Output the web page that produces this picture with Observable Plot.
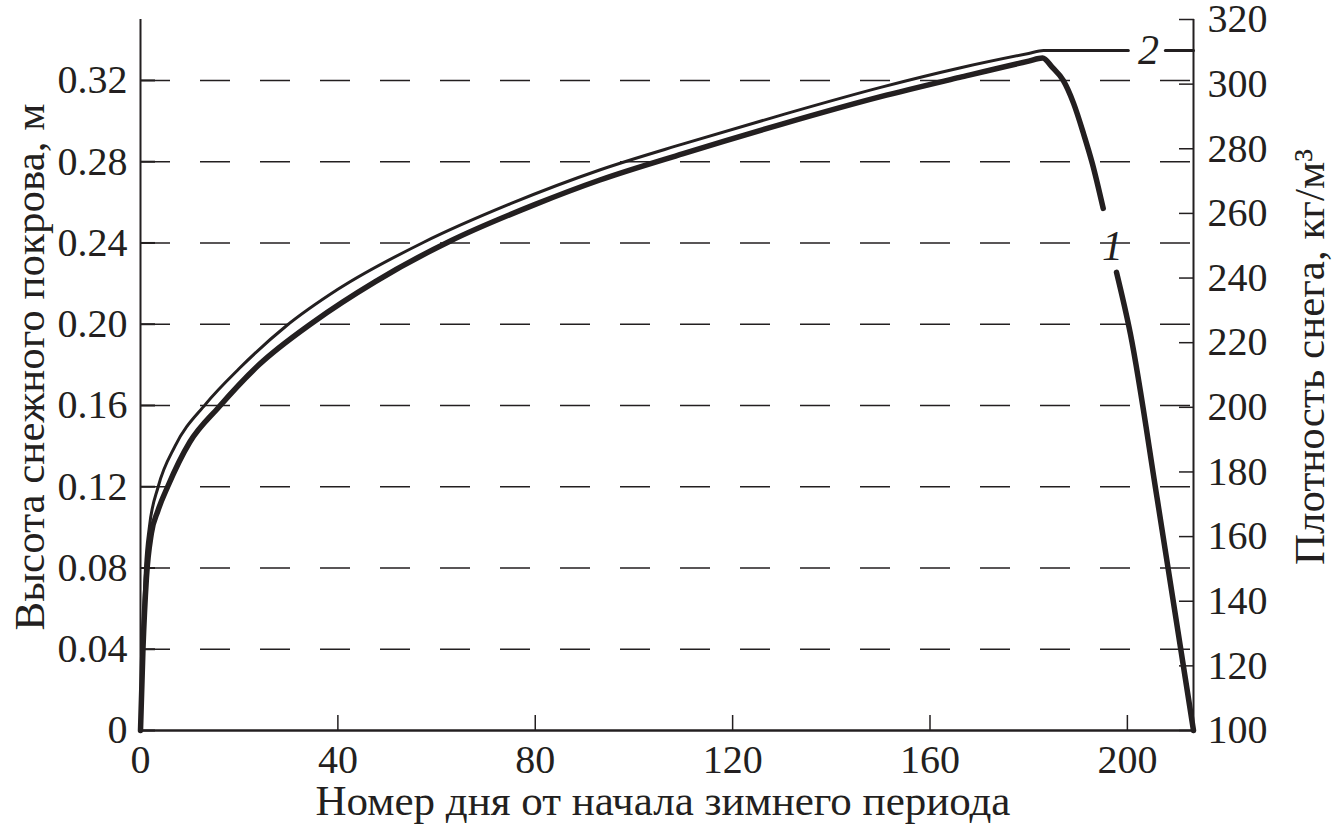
<!DOCTYPE html>
<html><head><meta charset="utf-8">
<script src="https://cdn.jsdelivr.net/npm/d3@7"></script>
<script src="https://cdn.jsdelivr.net/npm/@observablehq/plot@0.6"></script>
<style>body{margin:0;background:#fff}</style>
</head><body><div id="chart"></div>
<script>
const ink = "#231f20";
const xMax = 213.4;
const hMax = 0.35;
const dMin = 100, dMax = 320;

// Curve 1: snow depth (m), left axis
const heightDays    = [0, 0.5, 1.2, 2.2, 3.5, 5.5, 10, 15.8, 24, 35, 47.6, 62.8, 80, 93.1, 110, 130, 150, 166, 180, 182.8, 184.8, 187.0, 189.1, 191.1, 192.9, 195.1, 197.8, 200.6, 206.1, 213.4];
const heightValues  = [0, 0.04, 0.075, 0.097, 0.108, 0.12, 0.142, 0.159, 0.18, 0.201, 0.221, 0.241, 0.259, 0.271, 0.284, 0.2985, 0.312, 0.3215, 0.3295, 0.331, 0.3264, 0.320, 0.3087, 0.2939, 0.2791, 0.257, 0.2255, 0.1954, 0.1132, 0];
const heightSegment = [1,1,1,1,1,1,1,1,1,1,1,1,1,1,1,1,1,1,1,1,1,1,1,1,1,1,2,2,2,2];

// Curve 2: snow density (kg/m3), right axis
const densityDays    = [0, 0.4, 1.0, 1.8, 3.6, 7, 13.2, 20, 29.4, 40, 57.3, 75, 93.2, 110, 130, 150, 166, 180, 183, 200.2, 207.7, 213.4];
const densityValues  = [100, 125, 150, 163, 175.5, 188, 201, 212, 225, 236.5, 251, 263, 273.5, 281.5, 290.5, 299, 305, 309.5, 310.4, 310.4, 310.4, 310.4];
const densitySegment = [1,1,1,1,1,1,1,1,1,1,1,1,1,1,1,1,1,1,1,1,2,2];

const hTicks = [0, 0.04, 0.08, 0.12, 0.16, 0.20, 0.24, 0.28, 0.32];
const dTicks = [100, 120, 140, 160, 180, 200, 220, 240, 260, 280, 300, 320];
const xTicks = [0, 40, 80, 120, 160, 200];

const titleX = "Номер дня от начала зимнего периода";
const titleLeft = "Высота снежного покрова, м";
const titleRight = "Плотность снега, кг/м³";

const labelText  = ["1", "2"];
const labelDays  = [197.0, 204.3];
const labelDepth = [0.238, null];
const labelDens  = [null, 310.4];

const toY = d => (d - dMin) / (dMax - dMin) * hMax;

const heightRows = heightDays.map((d, i) => ({day: d, value: heightValues[i], seg: heightSegment[i]}));
const densityRows = densityDays.map((d, i) => ({day: d, value: toY(densityValues[i]), seg: densitySegment[i]}));
const labelRows = labelText.map((t, i) => ({text: t, day: labelDays[i], value: labelDepth[i] != null ? labelDepth[i] : toY(labelDens[i])}));

const titleStyle = {fontSize: 43, fill: ink, textAnchor: "middle", lineAnchor: "middle"};

const chart = Plot.plot({
  width: 1332, height: 829,
  marginLeft: 140, marginRight: 139, marginTop: 19, marginBottom: 99,
  style: {fontFamily: "'Liberation Serif', 'Times New Roman', serif", fontSize: "40px", color: ink, background: "#fff", overflow: "visible"},
  x: {domain: [0, xMax]},
  y: {domain: [0, hMax]},
  marks: [
    Plot.ruleY(hTicks.filter(v => v > 0), {stroke: ink, strokeWidth: 1.4, strokeDasharray: "30,30"}),
    Plot.axisY(hTicks, {anchor: "left", tickSize: -15, tickPadding: 28, strokeWidth: 2, stroke: ink, fontSize: 40,
      tickFormat: v => v === 0 ? "0" : v.toFixed(2), label: null}),
    Plot.axisY(dTicks.map(toY), {anchor: "right", tickSize: -15, tickPadding: 29, strokeWidth: 1.5, stroke: ink, fontSize: 40,
      tickFormat: v => String(Math.round(dMin + v / hMax * (dMax - dMin))), label: null}),
    Plot.axisX(xTicks, {anchor: "bottom", tickSize: -15, tickPadding: 29, strokeWidth: 1.5, stroke: ink, fontSize: 40, label: null}),
    Plot.text([titleLeft], {frameAnchor: "left", rotate: -90, dx: -110, dy: -8, ...titleStyle}),
    Plot.text([titleRight], {frameAnchor: "right", rotate: -90, dx: 117, dy: -18, ...titleStyle}),
    Plot.text([titleX], {frameAnchor: "bottom", dx: -4, dy: 71, ...titleStyle}),
    Plot.ruleX([0, xMax], {stroke: ink, strokeWidth: 2}),
    Plot.ruleY([0], {stroke: ink, strokeWidth: 2.5}),
    Plot.line(densityRows, {x: "day", y: "value", z: "seg", stroke: ink, strokeWidth: 3, curve: "monotone-x"}),
    Plot.line(heightRows, {x: "day", y: "value", z: "seg", stroke: ink, strokeWidth: 5.5, curve: "monotone-x"}),
    Plot.text(labelRows, {x: "day", y: "value", text: "text", fontStyle: "italic", fontSize: 42, fill: ink})
  ]
});
document.getElementById("chart").appendChild(chart);
</script>
</body></html>
